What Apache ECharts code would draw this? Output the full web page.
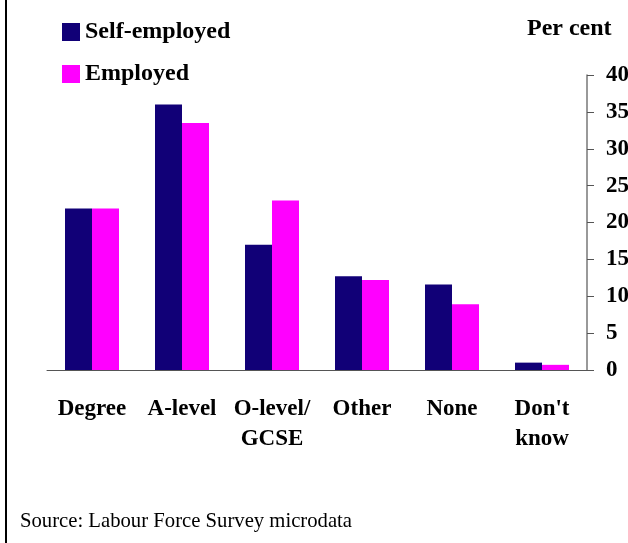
<!DOCTYPE html>
<html>
<head>
<meta charset="utf-8">
<script src="https://cdn.jsdelivr.net/npm/echarts@6/dist/echarts.min.js"></script>
<style>
html,body{margin:0;padding:0;background:#fff;}
#chart{width:628px;height:543px;}
</style>
</head>
<body>
<div id="chart"></div>
<script>
const categories = ['Degree', 'A-level', 'O-level/\nGCSE', 'Other', 'None', "Don't\nknow"];
const selfEmployed = [21.9, 36.0, 17.0, 12.7, 11.6, 1.0];
const employed = [21.9, 33.5, 23.0, 12.2, 8.9, 0.7];
const yTicks = { min: 0, max: 40, interval: 5 };

const serif = '"Liberation Serif", "Times New Roman", serif';
const chart = echarts.init(document.getElementById('chart'));
chart.setOption({
  animation: false,
  backgroundColor: '#fff',
  grid: { left: 47, right: 41, top: 75, bottom: 173, containLabel: false, outerBoundsMode: 'none' },
  legend: {
    orient: 'vertical',
    left: 62, top: 20, padding: 0,
    itemWidth: 18, itemHeight: 18, itemGap: 18,
    icon: 'rect',
    textStyle: { fontFamily: serif, fontWeight: 'bold', fontSize: 24, color: '#000', lineHeight: 24 },
    data: ['Self-employed', 'Employed']
  },
  xAxis: {
    type: 'category',
    data: categories,
    axisLine: { lineStyle: { color: '#555', width: 1 } },
    axisTick: { inside: true, length: 7, lineStyle: { color: '#333' } },
    axisLabel: { interval: 0, margin: 24, fontFamily: serif, fontWeight: 'bold', fontSize: 23, color: '#000', lineHeight: 30 }
  },
  yAxis: {
    type: 'value',
    position: 'right',
    min: yTicks.min, max: yTicks.max, interval: yTicks.interval,
    splitLine: { show: false },
    axisLine: { show: true, lineStyle: { color: '#777', width: 1.5 } },
    axisTick: { show: true, length: 7, lineStyle: { color: '#555' } },
    axisLabel: { margin: 19, align: 'left', fontFamily: serif, fontWeight: 'bold', fontSize: 23, color: '#000' }
  },
  graphic: [
    { type: 'line', shape: { x1: 6, y1: 0, x2: 6, y2: 543 }, style: { stroke: '#000', lineWidth: 2 } },
    { type: 'text', left: 527, top: 17, style: { text: 'Per cent', fontFamily: serif, fontWeight: 'bold', fontSize: 24, fill: '#000' } },
    { type: 'text', left: 20, top: 511, style: { text: 'Source: Labour Force Survey microdata', fontFamily: serif, fontSize: 20.7, fill: '#000' } }
  ],
  series: [
    { name: 'Self-employed', type: 'bar', data: selfEmployed, itemStyle: { color: '#110077' }, barGap: '0%', barCategoryGap: '40%' },
    { name: 'Employed', type: 'bar', data: employed, itemStyle: { color: '#FF00FF' }, barGap: '0%', barCategoryGap: '40%' }
  ]
});
</script>
</body>
</html>
